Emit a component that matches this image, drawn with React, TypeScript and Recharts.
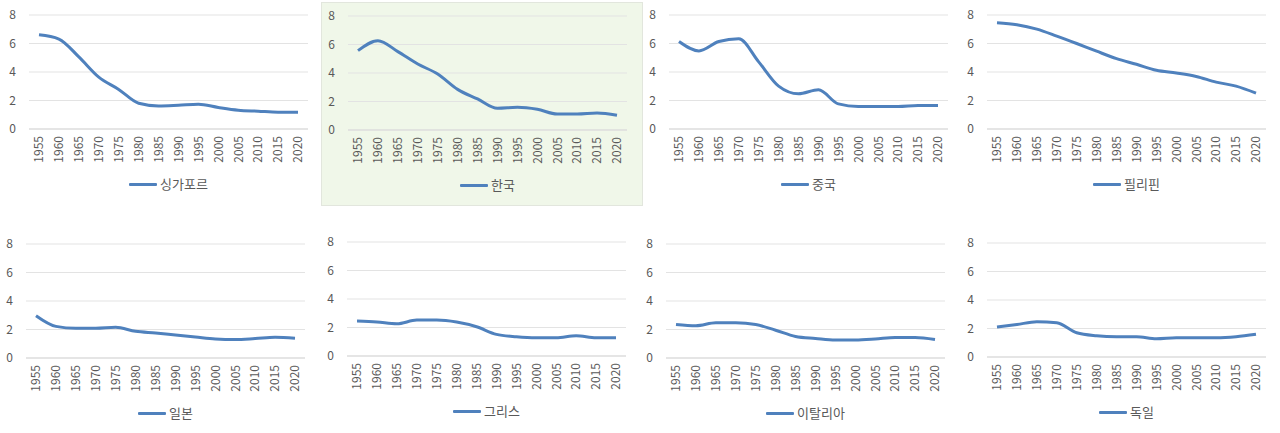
import { LineChart, Line, XAxis, YAxis, CartesianGrid, Legend } from 'recharts'

const years = ['1955', '1960', '1965', '1970', '1975', '1980', '1985', '1990', '1995', '2000', '2005', '2010', '2015', '2020']
const yTicks = [0, 2, 4, 6, 8]

const countries = ['싱가포르', '한국', '중국', '필리핀', '일본', '그리스', '이탈리아', '독일']

const singapore = [6.61, 6.31, 5.06, 3.64, 2.78, 1.81, 1.62, 1.67, 1.74, 1.51, 1.32, 1.25, 1.18, 1.18]
const korea = [5.57, 6.27, 5.5, 4.63, 3.93, 2.85, 2.18, 1.52, 1.59, 1.45, 1.12, 1.12, 1.19, 1.03]
const china = [6.14, 5.48, 6.14, 6.33, 4.71, 3.01, 2.47, 2.75, 1.76, 1.58, 1.58, 1.58, 1.65, 1.65]
const philippines = [7.46, 7.32, 7.01, 6.52, 6.0, 5.46, 4.94, 4.54, 4.12, 3.93, 3.69, 3.29, 3.01, 2.52]
const japan = [2.97, 2.22, 2.08, 2.08, 2.15, 1.87, 1.75, 1.61, 1.47, 1.33, 1.29, 1.36, 1.45, 1.38]
const greece = [2.45, 2.38, 2.26, 2.52, 2.52, 2.38, 2.05, 1.52, 1.35, 1.28, 1.28, 1.42, 1.28, 1.28]
const italy = [2.35, 2.26, 2.47, 2.47, 2.35, 1.95, 1.51, 1.37, 1.26, 1.26, 1.33, 1.44, 1.44, 1.3]
const germany = [2.1, 2.28, 2.47, 2.4, 1.7, 1.49, 1.42, 1.42, 1.28, 1.35, 1.35, 1.35, 1.42, 1.59]

const seriesValues = [singapore, korea, china, philippines, japan, greece, italy, germany]

// plot-area left edge and top gridline for each panel
const layout = [
  { left: 29, top: 15 },
  { left: 348, top: 16 },
  { left: 669, top: 15 },
  { left: 987, top: 15 },
  { left: 26, top: 244 },
  { left: 347, top: 242 },
  { left: 666, top: 244 },
  { left: 987, top: 243 },
]

const LINE = '#4f81bd'
const TEXT = '#595959'
const FONT = '"Noto Sans CJK KR", "Noto Sans", sans-serif'

const Y_W = 29
const PLOT_W = 279
const PLOT_H = 114
const X_H = 41
const LEG_H = 35
const TOP_M = 10
const CHART_W = Y_W + PLOT_W + 4
const CHART_H = TOP_M + PLOT_H + X_H + LEG_H

function YearTick({ x, y, payload }: any) {
  return (
    <text
      x={x}
      y={y}
      transform={`rotate(-90, ${x}, ${y})`}
      textAnchor="end"
      dy="0.36em"
      fill={TEXT}
      fontSize={12}
      fontFamily={FONT}
    >
      {payload.value}
    </text>
  )
}

function Panel({ name, values, left, top }: { name: string; values: number[]; left: number; top: number }) {
  const data = years.map((year, i) => ({ year, value: values[i] }))
  return (
    <div style={{ position: 'absolute', left: left - Y_W, top: top - TOP_M }}>
      <LineChart width={CHART_W} height={CHART_H} data={data} margin={{ top: TOP_M, right: 4, bottom: 0, left: 0 }}>
        <CartesianGrid vertical={false} stroke="#e3e3e3" />
        <XAxis
          dataKey="year"
          interval={0}
          axisLine={{ stroke: '#d9d9d9' }}
          tickLine={false}
          tickSize={0}
          tickMargin={7}
          height={X_H}
          padding={{ left: 10, right: 10 }}
          tick={<YearTick />}
        />
        <YAxis
          width={Y_W}
          domain={[0, 8]}
          ticks={yTicks}
          axisLine={false}
          tickLine={false}
          tickSize={0}
          tickMargin={13}
          tick={{ fill: TEXT, fontSize: 12, fontFamily: FONT }}
        />
        <Legend
          verticalAlign="bottom"
          content={() => (
            <div
              style={{
                height: LEG_H,
                display: 'flex',
                justifyContent: 'center',
                alignItems: 'flex-start',
                paddingTop: 6,
                boxSizing: 'border-box',
                paddingLeft: Y_W,
              }}
            >
              <div style={{ display: 'flex', alignItems: 'center', height: 16 }}>
                <span style={{ width: 28, height: 3, background: LINE, marginRight: 3, borderRadius: 1 }} />
                <span style={{ fontSize: 13, color: TEXT, fontFamily: FONT, lineHeight: '16px' }}>{name}</span>
              </div>
            </div>
          )}
        />
        <Line
          type="monotone"
          dataKey="value"
          name={name}
          stroke={LINE}
          strokeWidth={3}
          dot={false}
          activeDot={false}
          isAnimationActive={false}
        />
      </LineChart>
    </div>
  )
}

export default function App() {
  return (
    <div
      style={{
        position: 'absolute',
        left: 0,
        top: 0,
        width: 1280,
        height: 433,
        overflow: 'hidden',
        background: '#ffffff',
        fontFamily: FONT,
      }}
    >
      <div
        style={{
          position: 'absolute',
          left: 321,
          top: 2,
          width: 320,
          height: 202,
          background: '#f0f7e9',
          border: '1px solid #e2e6dd',
        }}
      />
      {countries.map((name, i) => (
        <Panel key={name} name={name} values={seriesValues[i]} left={layout[i].left} top={layout[i].top} />
      ))}
    </div>
  )
}
